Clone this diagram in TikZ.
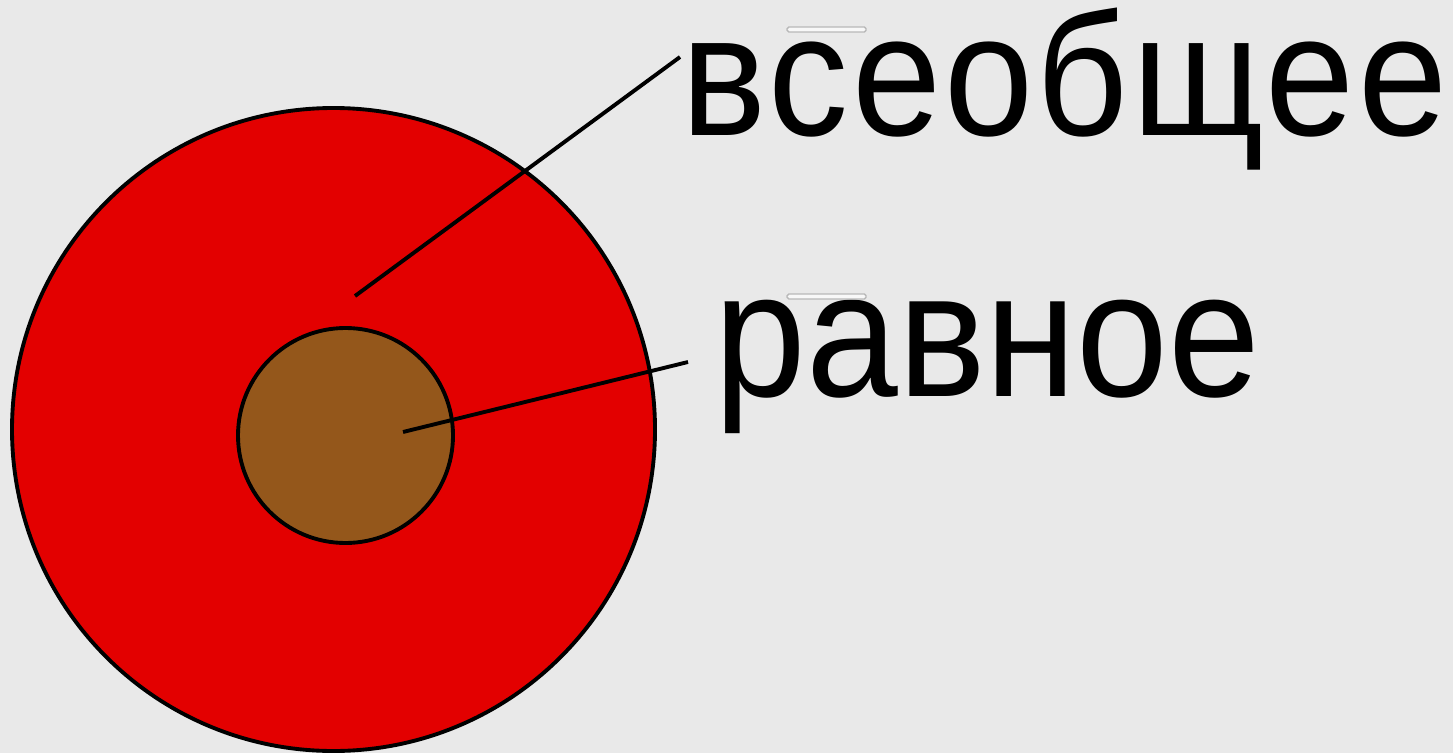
\documentclass[tikz,border=0pt]{standalone}
\usepackage{fontspec}
\setmainfont{Liberation Sans}
\newfontfamily\wordfont[FakeStretch=0.92]{Liberation Sans}
\usetikzlibrary{positioning}
\definecolor{cbg}{HTML}{E9E9E9}
\definecolor{cred}{HTML}{E30000}
\definecolor{cbrown}{HTML}{94571B}
\definecolor{cmark}{HTML}{B8B8B8}
\tikzset{
  every picture/.style={line width=1.1pt},
  disc/.style={draw=black, fill=#1},
  pointer/.style={draw=black, line width=1.1pt},
  word/.style={font=\wordfont\fontsize{#1}{60}\selectfont, inner sep=0pt, anchor=base west},
  word/.default=51,
  tick/.style={draw=cmark, fill=white!70!cbg, rounded corners=0.5pt, line width=0.4pt},
}

\begin{document}
\begin{tikzpicture}
  % ---------------- background
  \fill[cbg] (0,0) rectangle (14.53,7.53);
  \useasboundingbox (0,0) rectangle (14.53,7.53);
  % ---------------- circles
  \draw[disc=cred] (3.335,3.235) circle (3.215);
  \draw[disc=cbrown] (3.455,3.175) circle (1.075);
  % ---------------- labels
  \node[word=49.5] (whole) at (6.80,6.17) {\addfontfeature{LetterSpace=2}всеобщее};
  \node[word] (equal) at (7.13,3.57) {равное};
  \draw[tick] (7.87,7.26) rectangle (8.66,7.21);
  \draw[tick] (7.87,4.59) rectangle (8.66,4.54);
  % ---------------- pointers
  \coordinate (whole in) at (3.55,4.57);
  \coordinate (whole out) at (6.80,6.96);
  \coordinate (equal in) at (4.03,3.21);
  \coordinate (equal out) at (6.88,3.91);
  \draw[pointer] (whole in) -- (whole out);
  \draw[pointer] (equal in) -- (equal out);
\end{tikzpicture}
\end{document}
